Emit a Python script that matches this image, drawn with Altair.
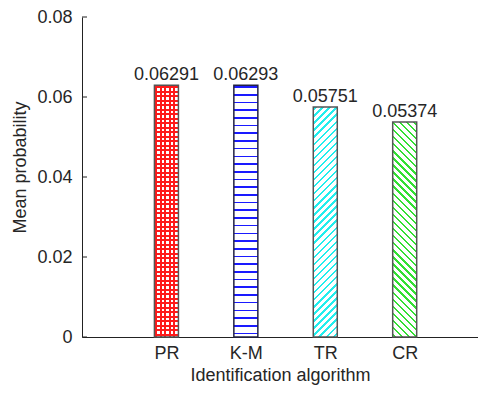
import math
import altair as alt
import pandas as pd

# ---- data ----
algorithms = ["PR", "K-M", "TR", "CR"]
mean_prob = [0.06291, 0.06293, 0.05751, 0.05374]
y_ticks = [0, 0.02, 0.04, 0.06, 0.08]

df = pd.DataFrame({"alg": algorithms, "value": mean_prob, "pos": list(range(1, len(algorithms) + 1))})
tick_df = pd.DataFrame({"value": y_ticks})

W, H = 396, 320
YMAX = 0.08
XMAX = 4.86
BAR_W = 24
FONT = "Liberation Sans"
TXT = "#262626"


def stripe_stops(span_px, period, lw, color, bg, phase=1.0):
    stops = [{"offset": 0, "color": bg}]
    k = 0
    while True:
        a = (phase + k * period) / span_px
        b = (phase + k * period + lw) / span_px
        if a >= 1:
            break
        b = min(b, 1.0)
        stops += [{"offset": a, "color": bg}, {"offset": a, "color": color},
                  {"offset": b, "color": color}, {"offset": b, "color": bg}]
        k += 1
    stops.append({"offset": 1, "color": bg})
    return stops


def horiz_lines(h_px, period, lw, color, bg):
    return {"gradient": "linear", "x1": 0, "y1": 0, "x2": 0, "y2": 1,
            "stops": stripe_stops(h_px, period, lw, color, bg)}


def vert_lines(w_px, period, lw, color, bg):
    return {"gradient": "linear", "x1": 0, "y1": 0, "x2": 1, "y2": 0,
            "stops": stripe_stops(w_px, period, lw, color, bg)}


def diag_lines(h_px, w_px, period, lw, color, bg, up=True):
    r = h_px / w_px
    s = (1 + r) / (1 + r * r)
    span = (w_px + h_px) / math.sqrt(2)
    if up:
        g = {"x1": 0, "y1": 0, "x2": s, "y2": s * r}
    else:
        g = {"x1": 0, "y1": 1, "x2": s, "y2": 1 - s * r}
    g.update({"gradient": "linear", "stops": stripe_stops(span, period, lw, color, bg)})
    return g


def hpx(v):
    return v / YMAX * H


x_enc = alt.X("pos:Q", scale=alt.Scale(domain=[0, XMAX], nice=False, zero=False),
              axis=alt.Axis(values=list(range(1, len(algorithms) + 1)),
                            labelExpr="[''," + ",".join("'%s'" % a for a in algorithms) + "][datum.value]",
                            ticks=False, grid=False, title="Identification algorithm",
                            labelPadding=7, titlePadding=4))
y_enc = alt.Y("value:Q", scale=alt.Scale(domain=[0, YMAX], nice=False),
              axis=alt.Axis(values=y_ticks, format="~g", ticks=False, grid=False,
                            title="Mean probability", labelPadding=10, titlePadding=7, titleY=150))

base = alt.Chart(df)
stroke = "#555555"
layers = []

# PR: red cross-hatch
v = mean_prob[0]
layers.append(base.transform_filter(alt.datum.alg == algorithms[0]).mark_bar(
    size=BAR_W, fill=horiz_lines(hpx(v), 4.5, 2.0, "#ff1a1a", "#ffffff"), strokeWidth=0
).encode(x=x_enc, y=y_enc))
layers.append(base.transform_filter(alt.datum.alg == algorithms[0]).mark_bar(
    size=BAR_W, fill=vert_lines(BAR_W, 4.5, 2.0, "#ff1a1a", "rgba(255,255,255,0)"),
    stroke=stroke, strokeWidth=1.5
).encode(x=x_enc, y=y_enc))

# K-M: blue horizontal lines
v = mean_prob[1]
layers.append(base.transform_filter(alt.datum.alg == algorithms[1]).mark_bar(
    size=BAR_W, fill=horiz_lines(hpx(v), 7.7, 1.6, "#1a1aff", "#ffffff"),
    stroke="#222244", strokeWidth=1.5
).encode(x=x_enc, y=y_enc))

# TR: cyan "/" lines
v = mean_prob[2]
layers.append(base.transform_filter(alt.datum.alg == algorithms[2]).mark_bar(
    size=BAR_W, fill=diag_lines(hpx(v), BAR_W, 5.0, 1.7, "#22eeee", "#ffffff", up=True),
    stroke=stroke, strokeWidth=1.5
).encode(x=x_enc, y=y_enc))

# CR: green "\" lines
v = mean_prob[3]
layers.append(base.transform_filter(alt.datum.alg == algorithms[3]).mark_bar(
    size=BAR_W, fill=diag_lines(hpx(v), BAR_W, 5.0, 1.7, "#33e033", "#ffffff", up=False),
    stroke=stroke, strokeWidth=1.5
).encode(x=x_enc, y=y_enc))

# value labels
layers.append(base.mark_text(baseline="alphabetic", dy=-5, fontSize=18, font=FONT, color=TXT).encode(
    x=x_enc, y=y_enc, text=alt.Text("value:Q", format=".5f")))

# inward y ticks
layers.append(alt.Chart(tick_df).mark_rule(color="#222222", strokeWidth=1).encode(
    y=y_enc, x=alt.value(0), x2=alt.value(5)))

chart = alt.layer(*layers).properties(
    width=W, height=H,
    autosize=alt.AutoSizeParams(type="none"),
    padding={"left": 74, "top": 9, "right": 0, "bottom": 48},
    background="white",
).configure_view(stroke=None).configure_axis(
    domainColor="#222222", domainWidth=1,
    labelFont=FONT, titleFont=FONT, labelFontSize=18, titleFontSize=18,
    labelColor=TXT, titleColor=TXT, titleFontWeight="normal",
)

chart.save("out.html", embed_options={"renderer": "svg", "actions": False})
